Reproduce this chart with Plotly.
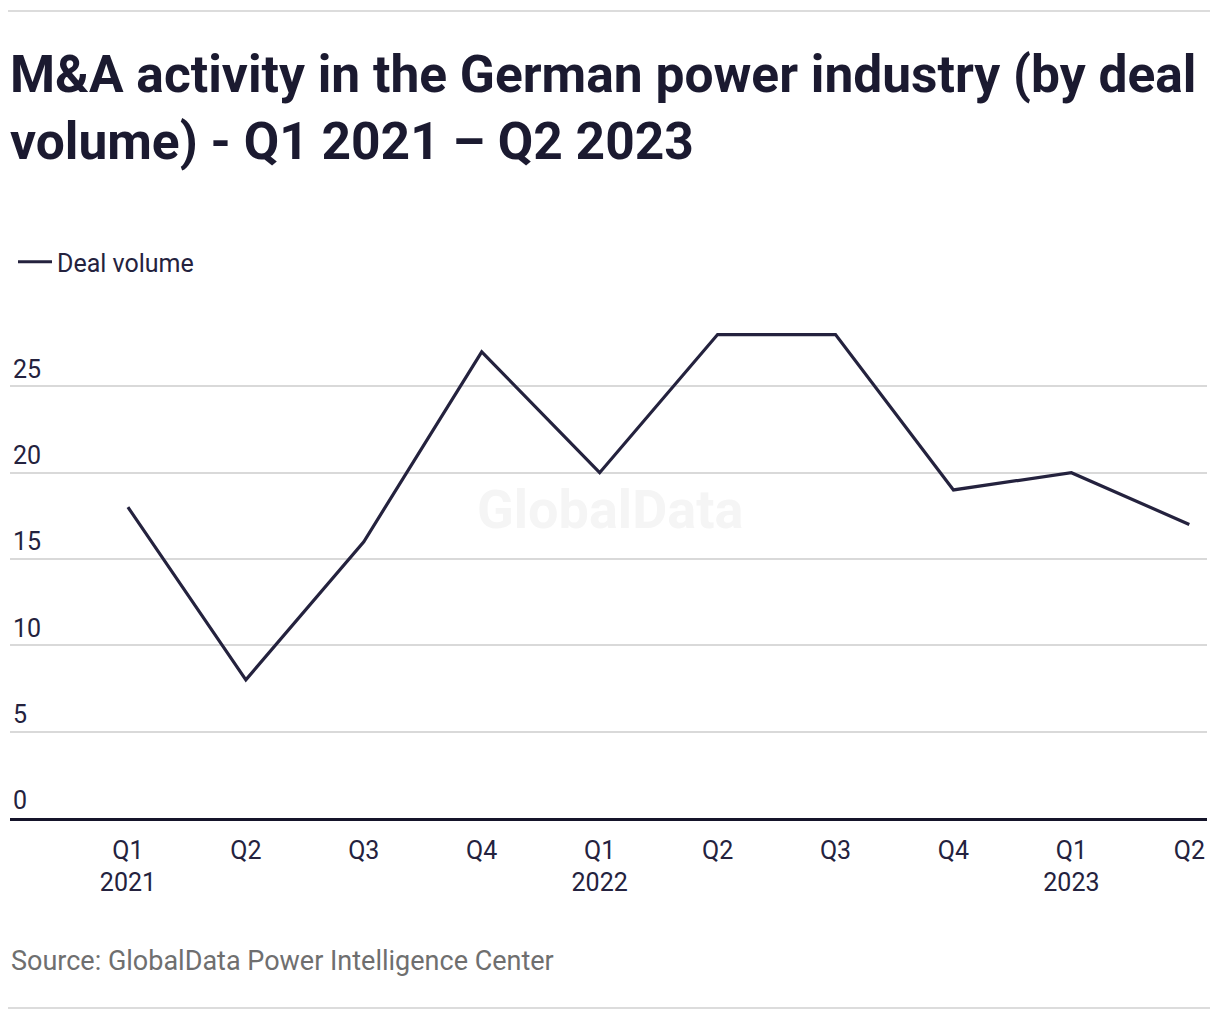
import plotly.graph_objects as go

quarters = ["Q1<br>2021", "Q2", "Q3", "Q4", "Q1<br>2022", "Q2", "Q3", "Q4", "Q1<br>2023", "Q2"]
deal_volume = [18, 8, 16, 27, 20, 28, 28, 19, 20, 17]
y_ticks = [0, 5, 10, 15, 20, 25]
series_name = "Deal volume"

NAVY = "#24223e"
OFF = 8                      # default page body margin
FW, FH = 1220 - 2 * OFF, 1020 - OFF
L, R, T, B = 2, 5, 292, 202
pw = FW - L - R
ph = FH - T - B

def fx(tx):
    return (tx - OFF - L) / pw

def fy(ty):
    return (FH - B - (ty - OFF)) / ph

xs = list(range(len(quarters)))

fig = go.Figure()
fig.add_trace(go.Scatter(
    x=xs, y=deal_volume, mode="lines", name=series_name,
    line=dict(color=NAVY, width=3.2),
    hoverinfo="skip",
))

fig.update_layout(
    width=FW, height=FH,
    margin=dict(l=L, r=R, t=T, b=B, pad=0),
    paper_bgcolor="white", plot_bgcolor="white",
    font=dict(family="Roboto", size=25, color=NAVY),
    showlegend=True,
    legend=dict(
        orientation="h", xref="container", yref="container",
        x=(20 - OFF - 7) / FW, xanchor="left",
        y=1 - (262 - OFF) / FH, yanchor="middle",
        itemwidth=34,
        font=dict(size=25, color=NAVY), bgcolor="rgba(0,0,0,0)",
    ),
    xaxis=dict(
        range=[-1, 9.15], tickmode="array", tickvals=xs, ticktext=quarters,
        showgrid=False, zeroline=False, showline=True, linecolor="#15142a", linewidth=2.5,
        ticks="", ticklabelstandoff=8, tickfont=dict(size=25, color=NAVY), fixedrange=True,
    ),
    yaxis=dict(
        range=[0, 30], tickmode="array", tickvals=y_ticks,
        ticktext=[str(v) for v in y_ticks],
        showgrid=True, gridcolor="#d9d9d9", gridwidth=1.5, zeroline=False,
        ticks="", ticklabelposition="inside top", tickfont=dict(size=25, color=NAVY),
        fixedrange=True,
    ),
    shapes=[
        dict(type="line", xref="paper", yref="paper", x0=fx(7), x1=fx(1210),
             y0=fy(11), y1=fy(11), line=dict(color="#dcdcdc", width=2)),
        dict(type="line", xref="paper", yref="paper", x0=fx(7), x1=fx(1210),
             y0=fy(1008), y1=fy(1008), line=dict(color="#dcdcdc", width=2)),
    ],
    annotations=[
        dict(text="<b>M&A activity in the German power industry (by deal<br>volume) - Q1 2021 – Q2 2023</b>",
             xref="paper", yref="paper", x=fx(8), y=fy(42), xanchor="left", yanchor="top",
             align="left", showarrow=False,
             font=dict(family="Roboto", size=51.5, color="#1b1a30")),
        dict(text="<b>GlobalData</b>", xref="paper", yref="paper", x=fx(610), y=fy(509),
             showarrow=False, font=dict(size=54, color="#f5f5f5"), xanchor="center", yanchor="middle"),
        dict(text="Source: GlobalData Power Intelligence Center", xref="paper", yref="paper",
             x=fx(9), y=fy(961), xanchor="left", yanchor="middle", showarrow=False,
             font=dict(size=27, color="#6f6f6f")),
    ],
)

fig.write_html("out.html", config={"displayModeBar": False})
